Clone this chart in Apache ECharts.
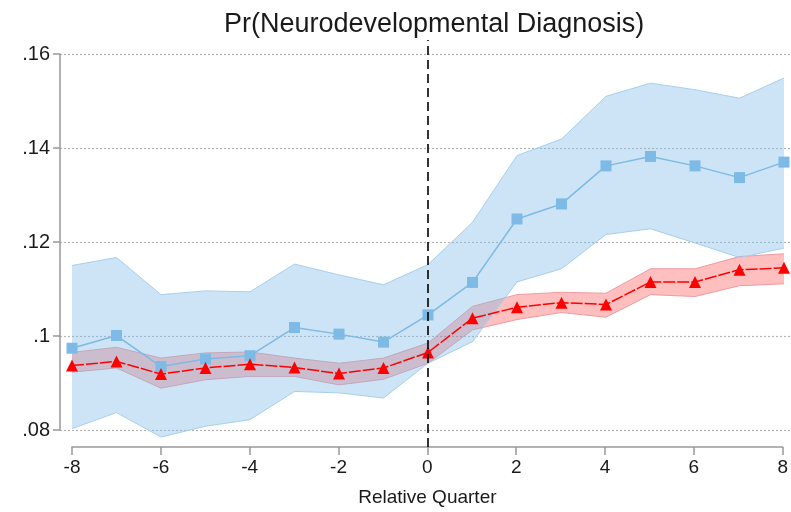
<!DOCTYPE html>
<html>
<head>
<meta charset="utf-8">
<script src="https://cdn.jsdelivr.net/npm/echarts@6/dist/echarts.min.js"></script>
<style>
html,body{margin:0;padding:0;background:#fff;}
#chart{width:791px;height:512px;}
</style>
</head>
<body>
<div id="chart"></div>
<script>
// ---- data ----
const quarters = [-8,-7,-6,-5,-4,-3,-2,-1,0,1,2,3,4,5,6,7,8];
const blueEst  = [.0974,.1001,.0935,.0951,.0958,.1018,.1004,.0987,.1045,.1114,.1249,.1281,.1362,.1382,.1362,.1337,.1370];
const blueHi   = [.1150,.1167,.1088,.1096,.1094,.1153,.1130,.1109,.1152,.1242,.1384,.1419,.1510,.1538,.1524,.1506,.1549];
const blueLo   = [.0803,.0837,.0785,.0808,.0822,.0882,.0879,.0868,.0942,.0988,.1115,.1143,.1216,.1228,.1198,.1167,.1187];
const redEst   = [.0937,.0946,.0919,.0932,.0940,.0933,.0920,.0932,.0965,.1038,.1061,.1071,.1067,.1115,.1115,.1141,.1145];
const redHi    = [.0965,.0976,.0953,.0964,.0966,.0953,.0942,.0953,.0985,.1063,.1088,.1093,.1091,.1143,.1143,.1169,.1175];
const redLo    = [.0923,.0932,.0889,.0907,.0914,.0914,.0896,.0908,.0942,.1013,.1035,.1050,.1040,.1088,.1084,.1107,.1111];
const xTicks = [-8,-6,-4,-2,0,2,4,6,8];
const yTicks = [.08,.1,.12,.14,.16];
const yTickLabels = ['.08','.1','.12','.14','.16'];
const titleText = 'Pr(Neurodevelopmental Diagnosis)';
const xTitle = 'Relative Quarter';

// ---- build ----
const pairs = (ys) => quarters.map((q,i)=>[q, ys[i]]);
const bandData = (hi, lo) => quarters.map((q,i)=>[q, lo[i], hi[i]]);
const FONT = 'Liberation Sans, Arial, sans-serif';

function bandRenderer(fill, edge){
  return function(params, api){
    if (params.dataIndexInside !== 0) return null;
    const n = params.dataInsideLength;
    const up = [], dn = [];
    for (let i=0;i<n;i++){
      const x = api.value(0, i);
      up.push(api.coord([x, api.value(2, i)]));
      dn.push(api.coord([x, api.value(1, i)]));
    }
    const poly = up.concat(dn.slice().reverse());
    return {type:'group', children:[
      {type:'polygon', shape:{points:poly}, style:{fill:fill, stroke:null}},
      {type:'polyline', shape:{points:up}, style:{stroke:edge, lineWidth:1, fill:null}},
      {type:'polyline', shape:{points:dn}, style:{stroke:edge, lineWidth:1, fill:null}}
    ]};
  };
}

const chart = echarts.init(document.getElementById('chart'), null, {renderer:'canvas'});
const option = {
  animation:false,
  backgroundColor:'#fff',
  title:{text:titleText, left:219, top:6,
    textStyle:{fontFamily:FONT, fontSize:27, fontWeight:'normal', color:'#1a1a1a'}},
  grid:[
    {left:72, right:7, top:54, bottom:82},
    {left:60, right:0, top:54, bottom:82},
    {left:72, right:7, top:40, bottom:63}
  ],
  xAxis:[
    {gridIndex:0, type:'value', min:-8, max:8, show:false},
    {gridIndex:1, type:'value', min:0, max:1, show:false},
    {gridIndex:2, type:'value', min:-8, max:8, interval:2, position:'bottom',
      axisLine:{show:true, lineStyle:{color:'#999', width:1.5}},
      axisTick:{show:true, length:8, lineStyle:{color:'#999', width:1.5}},
      axisLabel:{fontFamily:FONT, fontSize:19, color:'#1a1a1a', margin:11,
        formatter:(v)=> xTicks.includes(v) ? String(v) : ''},
      splitLine:{show:false},
      name:xTitle, nameLocation:'middle', nameGap:41,
      nameTextStyle:{fontFamily:FONT, fontSize:19, color:'#1a1a1a'}}
  ],
  yAxis:[
    {gridIndex:0, type:'value', min:.08, max:.16, show:false},
    {gridIndex:1, type:'value', min:.08, max:.16, interval:.02,
      axisLine:{show:true, lineStyle:{color:'#999', width:1.5}},
      axisTick:{show:true, length:7, lineStyle:{color:'#999', width:1.5}},
      axisLabel:{fontFamily:FONT, fontSize:20, color:'#1a1a1a', margin:10,
        formatter:(v)=>{const i=yTicks.findIndex(t=>Math.abs(t-v)<1e-9); return i>=0?yTickLabels[i]:'';}},
      splitLine:{show:true, lineStyle:{color:'#b5b5b5', type:[2,2], width:1.2}}},
    {gridIndex:2, type:'value', min:0, max:1, show:false}
  ],
  series:[
    {name:'vline', type:'line', xAxisIndex:2, yAxisIndex:2, data:[], silent:true,
      markLine:{silent:true, symbol:['none','none'], label:{show:false},
        lineStyle:{color:'#000', type:[9,5], width:1.6}, data:[{xAxis:0}]}},
    {name:'redCI', type:'custom', xAxisIndex:0, yAxisIndex:0, clip:false, silent:true,
      data:bandData(redHi, redLo), encode:{x:0, y:[1,2]},
      renderItem:bandRenderer('rgba(255,0,0,0.25)', '#f09aa0')},
    {name:'blueCI', type:'custom', xAxisIndex:0, yAxisIndex:0, clip:false, silent:true,
      data:bandData(blueHi, blueLo), encode:{x:0, y:[1,2]},
      renderItem:bandRenderer('rgba(127,188,230,0.4)', '#a6d0ee')},
    {name:'blue', type:'line', xAxisIndex:0, yAxisIndex:0, clip:false,
      data:pairs(blueEst), symbol:'rect', symbolSize:11,
      itemStyle:{color:'#7dbae6'}, lineStyle:{color:'#7dbae6', width:1.5}},
    {name:'red', type:'line', xAxisIndex:0, yAxisIndex:0, clip:false,
      data:pairs(redEst), symbol:'triangle', symbolSize:12,
      itemStyle:{color:'#ff0000'}, lineStyle:{color:'#ff0000', width:1.5, type:[12,2]}}
  ]
};
chart.setOption(option);
</script>
</body>
</html>
